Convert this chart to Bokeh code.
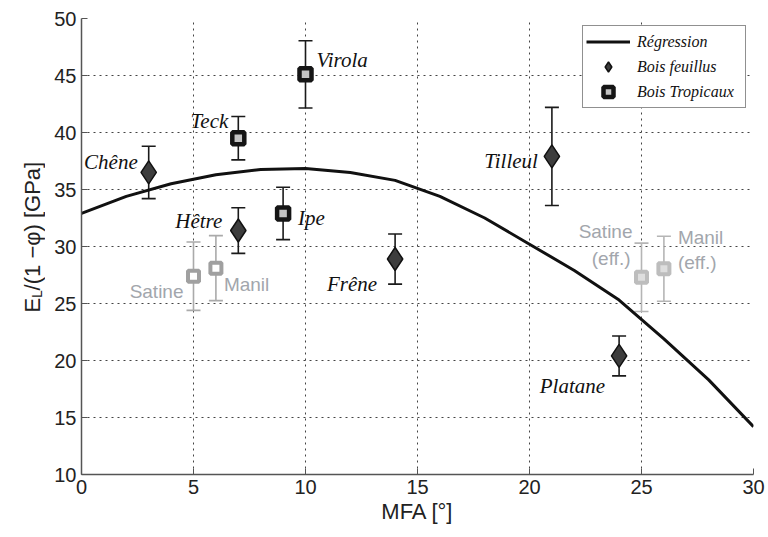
import math
from bokeh.plotting import figure
from bokeh.layouts import row
from bokeh.models import ColumnDataSource, Range1d, Legend, LegendItem, FixedTicker
from bokeh.embed import file_html
from bokeh.resources import INLINE
from bokeh.core.properties import value

# ---------------- data ----------------
x_ticks = [0, 5, 10, 15, 20, 25, 30]
y_ticks = [10, 15, 20, 25, 30, 35, 40, 45, 50]

# regression curve
reg_mfa = [0, 2, 4, 6, 8, 10, 12, 14, 16, 18, 20, 22, 24, 26, 28, 30]
reg_E = [32.9, 34.4, 35.5, 36.3, 36.75, 36.85, 36.5, 35.8, 34.4, 32.5, 30.2, 27.9, 25.3, 21.9, 18.3, 14.2]

# hardwoods (Bois feuillus)
hard_names = ["Chêne", "Hêtre", "Frêne", "Tilleul", "Platane"]
hard_mfa = [3, 7, 14, 21, 24]
hard_E = [36.5, 31.4, 28.9, 37.9, 20.4]
hard_err = [2.3, 2.0, 2.2, 4.3, 1.75]

# tropical woods (Bois Tropicaux)
trop_names = ["Teck", "Virola", "Ipe"]
trop_mfa = [7, 10, 9]
trop_E = [39.5, 45.1, 32.9]
trop_err = [1.9, 2.95, 2.3]

# grey points
grey_names = ["Satine", "Manil"]
grey_mfa = [5, 6]
grey_E = [27.4, 28.1]
grey_err = [3.0, 2.85]

eff_names = ["Satine", "Manil"]
eff_mfa = [25, 26]
eff_E = [27.3, 28.05]
eff_err = [3.0, 2.85]

x_label = "MFA [°]"
y_label_parts = ["E", "L", "/(1 −φ) [GPa]"]

# ---------------- label styling (screen-pixel offsets) ----------------
hard_dx = [-11, -16, -18, -14, -14]
hard_dy = [-10, -10, 25, 5, 30]
trop_dx = [-10, 11, 15]
trop_dy = [-17, -14, 5]
trop_align = ["right", "left", "left"]
grey_dx = [-10, 8]
grey_dy = [15, 16]
grey_align = ["right", "left"]

H = 535
LW = 45
W = 766 - LW

p = figure(width=W, height=H, output_backend="svg", toolbar_location=None,
           x_range=Range1d(0, 30), y_range=Range1d(10, 50),
           min_border_left=81 - LW, min_border_right=13, min_border_top=18, min_border_bottom=61)
p.outline_line_color = None
p.background_fill_color = "white"
p.border_fill_color = "white"

for ax in (p.xaxis[0], p.yaxis[0]):
    ax.axis_line_color = "#555555"
    ax.axis_line_width = 1.5
    ax.major_tick_in = 6
    ax.major_tick_out = 0
    ax.major_tick_line_color = "#555555"
    ax.minor_tick_line_color = None
    ax.major_label_text_font = "Liberation Sans"
    ax.major_label_text_font_size = "20px"
    ax.major_label_text_color = "#222222"
p.xaxis.ticker = FixedTicker(ticks=x_ticks)
p.yaxis.ticker = FixedTicker(ticks=y_ticks)
p.xaxis.major_label_standoff = 5
p.yaxis.major_label_standoff = 5
p.xaxis.axis_label = x_label
p.xaxis.axis_label_text_font = "Liberation Sans"
p.xaxis.axis_label_text_font_size = "22px"
p.xaxis.axis_label_text_font_style = "normal"
p.xaxis.axis_label_text_color = "#222222"
p.xaxis.axis_label_standoff = 2

p.grid.grid_line_color = "#444444"
p.grid.grid_line_dash = "2 4"
p.grid.grid_line_width = 1

def errbars(xs, ys, es, color):
    lo = [y - e for y, e in zip(ys, es)]
    hi = [y + e for y, e in zip(ys, es)]
    p.segment(x0=xs, y0=lo, x1=xs, y1=hi, line_color=color, line_width=1.6)
    p.scatter(x=xs + xs, y=lo + hi, marker="dash", size=14, line_color=color, line_width=1.6)

errbars(grey_mfa, grey_E, grey_err, "#aaaaaa")
errbars(eff_mfa, eff_E, eff_err, "#b5b5b5")
errbars(hard_mfa, hard_E, hard_err, "#1a1a1a")
errbars(trop_mfa, trop_E, trop_err, "#1a1a1a")

reg_r = p.line(reg_mfa, reg_E, line_color="#111111", line_width=3)

p.scatter(grey_mfa, grey_E, marker="square", size=11, fill_color="white",
          line_color="#a0a0a0", line_width=4)
p.scatter(eff_mfa, eff_E, marker="square", size=11, fill_color="#dedede",
          line_color="#bdbdbd", line_width=4)
hard_r = p.scatter(hard_mfa, hard_E, marker="diamond", size=23, fill_color="#3d3d3d",
                   line_color="#111111", line_width=1.5)
trop_r = p.scatter(trop_mfa, trop_E, marker="square", size=12, fill_color="#c4c4c4",
                   line_color="#151515", line_width=4.5)

# point labels
serif = dict(text_font=value("Liberation Serif"), text_font_style="italic",
             text_font_size="21px", text_color="#111111", text_baseline="alphabetic")
hsrc = ColumnDataSource(dict(x=hard_mfa, y=hard_E, t=hard_names, dx=hard_dx, dy=hard_dy))
p.text(x="x", y="y", text="t", x_offset="dx", y_offset="dy", source=hsrc,
       text_align="right", **serif)
for al in ("right", "left"):
    idx = [i for i, a in enumerate(trop_align) if a == al]
    src = ColumnDataSource(dict(x=[trop_mfa[i] for i in idx], y=[trop_E[i] for i in idx],
                                t=[trop_names[i] for i in idx], dx=[trop_dx[i] for i in idx],
                                dy=[trop_dy[i] for i in idx]))
    p.text(x="x", y="y", text="t", x_offset="dx", y_offset="dy", source=src,
           text_align=al, **serif)

sans = dict(text_font=value("Liberation Sans"), text_font_size="19px",
            text_color="#a2a6ac", text_baseline="alphabetic")
for i, al in enumerate(grey_align):
    p.text(x=[grey_mfa[i]], y=[grey_E[i]], text=[grey_names[i]], x_offset=grey_dx[i],
           y_offset=grey_dy[i], text_align=al, **sans)
# effective labels (two lines each)
p.text(x=[eff_mfa[0]], y=[eff_E[0]], text=[eff_names[0]], x_offset=-9, y_offset=-46,
       text_align="right", **sans)
p.text(x=[eff_mfa[0]], y=[eff_E[0]], text=["(eff.)"], x_offset=-11, y_offset=-19,
       text_align="right", **sans)
p.text(x=[eff_mfa[1]], y=[eff_E[1]], text=[eff_names[1]], x_offset=14, y_offset=-31,
       text_align="left", **sans)
p.text(x=[eff_mfa[1]], y=[eff_E[1]], text=["(eff.)"], x_offset=14, y_offset=-6,
       text_align="left", **sans)

# legend
legend = Legend(items=[LegendItem(label="Régression", renderers=[reg_r]),
                       LegendItem(label="Bois feuillus", renderers=[hard_r]),
                       LegendItem(label="Bois Tropicaux", renderers=[trop_r])],
                location="top_right", margin=7)
legend.label_text_font = "Liberation Serif"
legend.label_text_font_style = "italic"
legend.label_text_font_size = "16px"
legend.label_text_color = "#111111"
legend.glyph_width = 44
legend.glyph_height = 25
legend.label_height = 20
legend.spacing = 0
legend.padding = 3
legend.label_standoff = 7
legend.label_width = 105
legend.border_line_color = "#222222"
legend.border_line_width = 1
legend.background_fill_color = "white"
legend.background_fill_alpha = 1
p.add_layout(legend)

# ---- y axis label: a narrow side panel holding the rotated text (subscript L) ----
lab = figure(width=LW, height=H, output_backend="svg", toolbar_location=None,
             x_range=Range1d(0, LW), y_range=Range1d(0, H),
             min_border_left=0, min_border_right=0, min_border_top=0, min_border_bottom=0)
lab.axis.visible = False
lab.grid.visible = False
lab.outline_line_color = None
lab.border_fill_color = "white"
lab_style = dict(text_font=value("Liberation Sans"), text_color="#222222",
                 text_baseline="alphabetic", text_align="left", angle=math.pi / 2)
lab.text(x=[32], y=[H - 345], text=[y_label_parts[0]], text_font_size="22px", **lab_style)
lab.text(x=[36], y=[H - 328], text=[y_label_parts[1]], text_font_size="14px", **lab_style)
lab.text(x=[32], y=[H - 319], text=[y_label_parts[2]], text_font_size="22px", **lab_style)

layout = row(lab, p)
open("out.html", "w").write(file_html(layout, INLINE))
